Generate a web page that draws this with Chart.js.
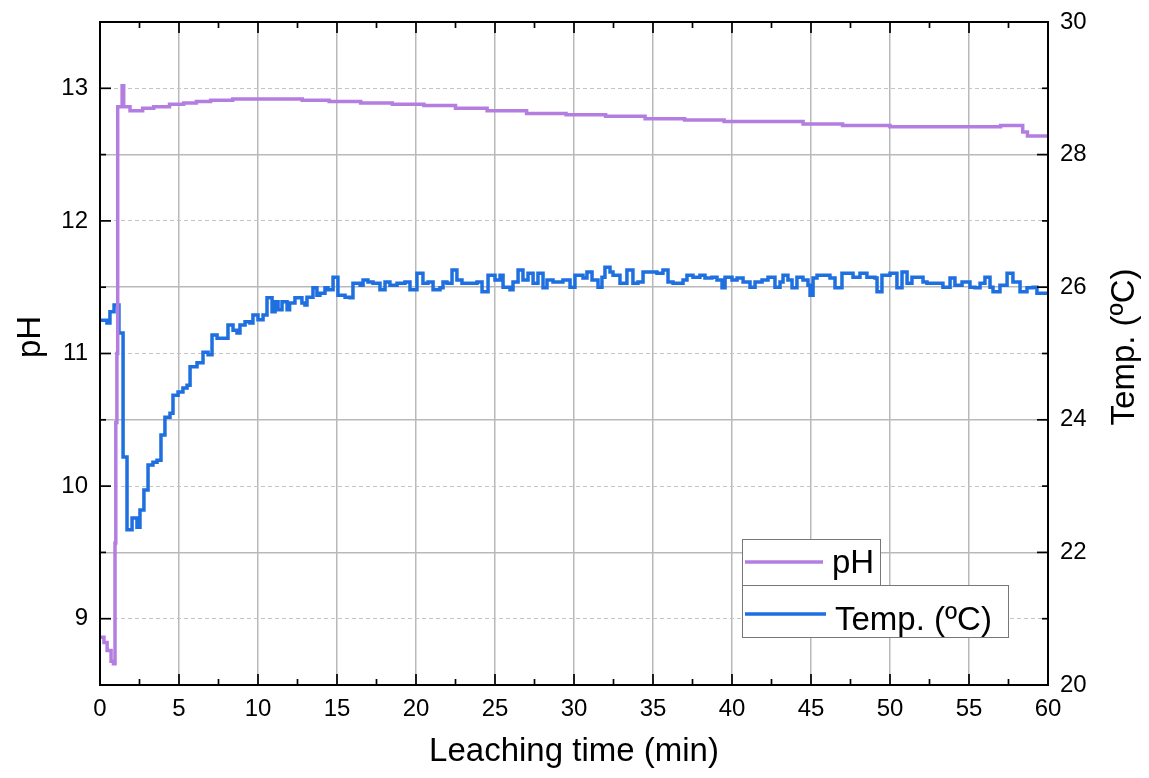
<!DOCTYPE html>
<html>
<head>
<meta charset="utf-8">
<script src="https://cdn.jsdelivr.net/npm/chart.js@4.4.0/dist/chart.umd.min.js"></script>
<style>
  html, body { margin: 0; padding: 0; background: #fff; }
</style>
</head>
<body>
<canvas id="leachChart" width="1149" height="778"></canvas>
<script>
// pH trace (time in min)
var phTime = [0, 0.25, 0.45, 0.7, 0.85, 0.95, 1.0, 1.07, 1.12, 1.4, 1.5, 1.9, 2.7, 3.4, 4.4, 5.3, 6.1, 7.0, 8.4,
              12.8, 14.5, 16.5, 18.5, 20.5, 22.5, 24.5, 27, 29.5, 32, 34.5, 37, 39.5, 42, 44.5, 47, 50,
              57.0, 57.6, 58.4, 58.7, 60];
var phValues = [8.86, 8.82, 8.76, 8.68, 8.66, 9.57, 10.48, 11.0, 12.86, 13.02, 12.86, 12.83, 12.85, 12.86, 12.88, 12.89, 12.9, 12.91, 12.92,
                12.91, 12.9, 12.89, 12.88, 12.87, 12.85, 12.83, 12.81, 12.8, 12.79, 12.77, 12.76, 12.75, 12.75, 12.73, 12.72, 12.71,
                12.72, 12.72, 12.67, 12.64, 12.64];

// temperature trace (time in min)
var tempTime = [0, 0.44, 0.63, 0.89, 1.2, 1.46, 1.71, 2.03, 2.34, 2.53, 2.78, 3.04, 3.35, 3.61, 3.86, 4.11, 4.43, 4.62, 4.94,
  5.25, 5.51, 5.7, 6.14, 6.52, 6.84, 7.09, 7.41, 8.1, 8.42, 8.67, 8.86, 9.18, 9.49, 9.68, 10.0, 10.32, 10.57, 10.89,
  11.08, 11.27, 11.52, 11.84, 12.0, 12.34, 12.78, 12.97, 13.1, 13.48, 13.73, 13.92, 14.24, 14.43, 14.75, 15.06, 15.51,
  15.82, 16.01, 16.46, 16.65, 16.96, 17.28, 17.72, 18.04, 18.35, 18.8, 19.3, 19.62, 20.06, 20.44, 20.76, 21.08, 21.52,
  21.71, 21.96, 22.28, 22.59, 22.91, 23.86, 24.18, 24.56, 25.0, 25.32, 25.51, 25.95, 26.14, 26.46, 26.77, 27.09, 27.41,
  27.72, 28.04, 28.29, 28.67, 29.3, 29.75, 30.06, 30.57, 30.82, 31.14, 31.52, 31.77, 31.96, 32.28, 32.47, 32.91, 33.35,
  33.73, 34.05, 34.37, 35.25, 35.63, 35.95, 36.27, 36.9, 37.15, 37.53, 37.97, 38.29, 38.73, 39.05, 39.37, 39.56, 40.0,
  40.32, 40.7, 41.14, 41.46, 41.9, 42.28, 42.72, 43.04, 43.23, 43.54, 43.8, 44.11, 44.49, 44.81, 44.94, 45.13, 45.38,
  46.2, 46.52, 46.96, 47.66, 48.1, 48.54, 49.05, 49.18, 49.49, 50.0, 50.44, 50.76, 51.08, 51.39, 52.09, 52.34, 53.35,
  53.8, 54.11, 54.56, 55.06, 55.38, 55.7, 56.01, 56.33, 56.52, 56.96, 57.41, 57.78, 58.23, 58.67, 59.05, 59.3, 60];
var tempValues = [25.5, 25.46, 25.63, 25.73, 25.31, 23.44, 22.34, 22.52, 22.38, 22.64, 22.94, 23.32, 23.36, 23.39, 23.77, 24.04, 24.1, 24.37, 24.42,
  24.48, 24.52, 24.8, 24.86, 25.02, 24.98, 25.28, 25.23, 25.43, 25.35, 25.31, 25.43, 25.48, 25.46, 25.58, 25.51, 25.58, 25.84, 25.63,
  25.78, 25.66, 25.78, 25.66, 25.76, 25.84, 25.76, 25.73, 25.85, 25.99, 25.88, 25.91, 25.99, 25.96, 26.15, 25.88, 25.85,
  25.84, 26.06, 26.03, 26.11, 26.08, 26.06, 25.96, 26.08, 26.03, 26.06, 26.08, 25.96, 26.21, 26.06, 26.08, 25.96, 25.99,
  26.08, 26.06, 26.26, 26.11, 26.06, 26.08, 25.93, 26.18, 26.11, 26.18, 26.0, 25.96, 26.08, 26.26, 26.11, 26.21, 26.06,
  26.21, 25.99, 26.11, 26.08, 26.11, 26.0, 26.18, 26.14, 26.23, 26.11, 26.0, 26.15, 26.3, 26.23, 26.18, 26.06, 26.26,
  26.06, 26.08, 26.23, 26.21, 26.26, 26.08, 26.06, 26.11, 26.18, 26.15, 26.18, 26.14, 26.15, 26.11, 25.99, 26.15, 26.11,
  26.14, 26.08, 26.0, 26.08, 26.11, 26.15, 26.0, 26.08, 26.18, 26.11, 25.99, 26.15, 26.11, 26.03, 25.88, 26.14, 26.18,
  26.14, 25.99, 26.21, 26.15, 26.21, 26.15, 26.14, 25.93, 26.18, 26.21, 25.99, 26.23, 26.06, 26.15, 26.08, 26.06, 26.0,
  26.14, 26.03, 26.08, 26.0, 25.99, 26.06, 26.15, 26.0, 25.93, 26.03, 26.21, 26.08, 25.93, 25.99, 26.0, 25.91, 25.91];

var seriesNames = ['pH', 'Temp. (\u00BAC)'];
var axisTitles = ['Leaching time (min)', 'pH', 'Temp. (\u00BAC)'];

var phColor = '#b47ee0';
var tempColor = '#1e6fe0';
var gridColor = '#b9b9b9';
var fontFamily = '"Liberation Sans", Arial, sans-serif';

function toPoints(xs, ys) {
  return xs.map(function (x, i) { return { x: x, y: ys[i] }; });
}

function isMult(v, step) {
  return Math.abs(v / step - Math.round(v / step)) < 1e-6;
}

function rotatedText(ctx, text, x, y) {
  ctx.save();
  ctx.fillStyle = '#000';
  ctx.font = '33px ' + fontFamily;
  ctx.textAlign = 'center';
  ctx.textBaseline = 'middle';
  ctx.translate(x, y);
  ctx.rotate(-Math.PI / 2);
  ctx.fillText(text, 0, 0);
  ctx.restore();
}

// frame, inward ticks, vertical titles and the boxed legend
var framePlugin = {
  id: 'originFrame',
  afterDraw: function (chart) {
    var ctx = chart.ctx;
    var a = chart.chartArea;
    var sx = chart.scales.x, sy = chart.scales.y, sy2 = chart.scales.y2;
    ctx.save();
    ctx.strokeStyle = '#000';
    ctx.lineWidth = 1.7;
    var v, p, len;
    for (v = 0; v <= 60; v += 2.5) {
      p = sx.getPixelForValue(v);
      len = isMult(v, 5) ? 11 : 6;
      ctx.beginPath();
      ctx.moveTo(p, a.bottom); ctx.lineTo(p, a.bottom - len);
      ctx.moveTo(p, a.top); ctx.lineTo(p, a.top + len);
      ctx.stroke();
    }
    for (v = 8.5; v <= 13.5; v += 0.5) {
      p = sy.getPixelForValue(v);
      len = isMult(v, 1) ? 11 : 6;
      ctx.beginPath();
      ctx.moveTo(a.left, p); ctx.lineTo(a.left + len, p);
      ctx.stroke();
    }
    for (v = 20; v <= 30; v += 1) {
      p = sy2.getPixelForValue(v);
      len = isMult(v, 2) ? 11 : 6;
      ctx.beginPath();
      ctx.moveTo(a.right, p); ctx.lineTo(a.right - len, p);
      ctx.stroke();
    }
    ctx.lineWidth = 2;
    ctx.strokeRect(a.left, a.top, a.right - a.left, a.bottom - a.top);
    ctx.restore();

    rotatedText(ctx, axisTitles[1], 31, 337);
    rotatedText(ctx, axisTitles[2], 1125, 347);

    // legend: two stacked boxes as in the original
    ctx.save();
    ctx.font = '33px ' + fontFamily;
    var boxes = [
      { x: 742, y: 539, w: 138, h: 46, color: phColor, ly: 562, lx2: 823, tx: 832, ty: 573 },
      { x: 742, y: 585, w: 266, h: 52, color: tempColor, ly: 614, lx2: 826, tx: 835, ty: 630 }
    ];
    boxes.forEach(function (b, i) {
      ctx.fillStyle = '#fff';
      ctx.fillRect(b.x, b.y, b.w, b.h);
      ctx.strokeStyle = '#777';
      ctx.lineWidth = 1;
      ctx.strokeRect(b.x + 0.5, b.y + 0.5, b.w, b.h);
      ctx.strokeStyle = b.color;
      ctx.lineWidth = 3.5;
      ctx.beginPath();
      ctx.moveTo(745, b.ly); ctx.lineTo(b.lx2, b.ly);
      ctx.stroke();
      ctx.fillStyle = '#000';
      ctx.textAlign = 'left';
      ctx.textBaseline = 'alphabetic';
      ctx.fillText(seriesNames[i], b.tx, b.ty);
    });
    ctx.restore();
  }
};

function fixWidth(w) {
  return function (s) { s.width = w; s.paddingTop = 0; s.paddingBottom = 0; };
}

var leachCtx = document.getElementById('leachChart').getContext('2d');
var leachChart = new Chart(leachCtx, {
  type: 'line',
  data: {
    datasets: [{
      label: seriesNames[0],
      data: toPoints(phTime, phValues),
      yAxisID: 'y',
      borderColor: phColor,
      borderWidth: 3.5,
      pointRadius: 0,
      stepped: true,
      fill: false
    }, {
      label: seriesNames[1],
      data: toPoints(tempTime, tempValues),
      yAxisID: 'y2',
      borderColor: tempColor,
      borderWidth: 3.5,
      pointRadius: 0,
      stepped: true,
      fill: false
    }]
  },
  options: {
    responsive: false,
    animation: false,
    layout: { padding: { top: 22, left: 0, right: 0, bottom: 0 } },
    plugins: {
      legend: { display: false },
      tooltip: { enabled: false }
    },
    scales: {
      x: {
        type: 'linear',
        min: 0,
        max: 60,
        afterFit: function (s) { s.height = 93; s.paddingLeft = 0; s.paddingRight = 0; },
        ticks: {
          stepSize: 2.5,
          padding: 10,
          color: '#000',
          font: { family: fontFamily, size: 24 },
          maxRotation: 0,
          autoSkip: false,
          callback: function (v) { return isMult(v, 5) ? v : ''; }
        },
        grid: {
          drawTicks: false,
          lineWidth: 1.5,
          color: function (c) {
            var v = c.tick ? c.tick.value : 0;
            return (isMult(v, 5) && v > 0 && v < 60) ? gridColor : 'rgba(0,0,0,0)';
          }
        },
        border: { display: false },
        title: {
          display: true,
          text: axisTitles[0],
          color: '#000',
          font: { family: fontFamily, size: 33 },
          padding: { top: 0, bottom: 6 }
        }
      },
      y: {
        position: 'left',
        min: 8.5,
        max: 13.5,
        afterFit: fixWidth(100),
        ticks: {
          stepSize: 0.5,
          padding: 12,
          color: '#000',
          font: { family: fontFamily, size: 24 },
          autoSkip: false,
          callback: function (v) { return isMult(v, 1) ? v : ''; }
        },
        grid: {
          drawTicks: false,
          lineWidth: 1,
          color: function (c) {
            var v = c.tick ? c.tick.value : 0;
            return isMult(v, 1) ? '#c4c4c4' : 'rgba(0,0,0,0)';
          }
        },
        border: { display: false, dash: [4, 3] }
      },
      y2: {
        position: 'right',
        min: 20,
        max: 30,
        afterFit: fixWidth(101),
        ticks: {
          stepSize: 1,
          padding: 12,
          color: '#000',
          font: { family: fontFamily, size: 24 },
          autoSkip: false,
          callback: function (v) { return isMult(v, 2) ? v : ''; }
        },
        grid: {
          drawTicks: false,
          drawOnChartArea: true,
          lineWidth: 1.5,
          color: function (c) {
            var v = c.tick ? c.tick.value : 0;
            return (isMult(v, 2) && v > 20 && v < 30) ? gridColor : 'rgba(0,0,0,0)';
          }
        },
        border: { display: false }
      }
    }
  },
  plugins: [framePlugin]
});
</script>
</body>
</html>
